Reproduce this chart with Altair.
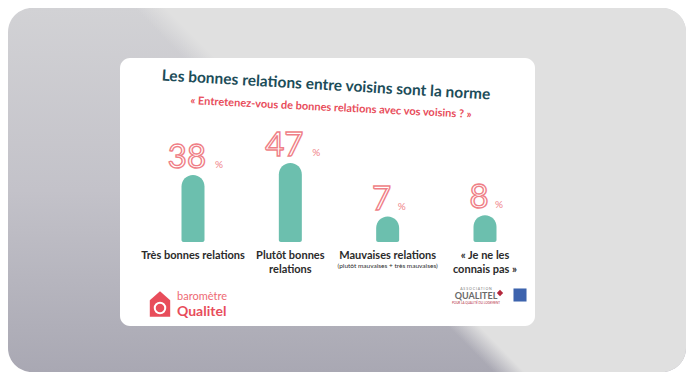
import altair as alt
import pandas as pd

# ---- data ----
categories = ["Très bonnes relations", "Plutôt bonnes relations",
              "Mauvaises relations", "« Je ne les connais pas »"]
labels = ["Très bonnes relations", "Plutôt bonnes\nrelations",
          "Mauvaises relations", "« Je ne les\nconnais pas »"]
sublabels = ["", "", "(plutôt mauvaises + très mauvaises)", ""]
values = [38, 47, 7, 8]

title_text = "Les bonnes relations entre voisins sont la norme"
subtitle_text = "« Entretenez-vous de bonnes relations avec vos voisins ? »"

df = pd.DataFrame({"cat": categories, "label": labels, "sub": sublabels, "v": values})
one = pd.DataFrame({"k": [0]})

TEAL = "#6cbfae"
PINK = "#ef7f87"
RED = "#e84d5b"
FONT = "Lato"
BASE = -12

xenc = alt.X("cat:N", sort=categories, axis=None,
             scale=alt.Scale(type="point", range=[73, 365], padding=0))
yscale = alt.Scale(domain=[BASE, 47], range=[188, 101])

# ---- background (decor) ----
bg = alt.Chart(one).mark_rect(
    cornerRadius=24,
    fill=alt.LinearGradient(gradient="linear", x1=0, y1=0, x2=0, y2=1, stops=[
        alt.GradientStop(color="#d2d2d5", offset=0),
        alt.GradientStop(color="#c3c2c9", offset=0.5),
        alt.GradientStop(color="#a9a8b3", offset=1)]),
).encode(x=alt.value(-112), x2=alt.value(566), y=alt.value(-50), y2=alt.value(314))

bg_light = alt.Chart(one).mark_rect(
    cornerRadius=24,
    fill=alt.LinearGradient(gradient="linear", x1=0, y1=1, x2=1.19, y2=0.37, stops=[
        alt.GradientStop(color="rgba(224,224,224,0)", offset=0),
        alt.GradientStop(color="rgba(224,224,224,0)", offset=0.47),
        alt.GradientStop(color="#e0e0e0", offset=0.5),
        alt.GradientStop(color="#e0e0e0", offset=1)]),
).encode(x=alt.value(-112), x2=alt.value(566), y=alt.value(-50), y2=alt.value(314))

card = alt.Chart(one).mark_rect(cornerRadius=10, fill="white").encode(
    x=alt.value(0), x2=alt.value(415), y=alt.value(0), y2=alt.value(268))

# ---- headings ----
title = alt.Chart(one).mark_text(
    text=title_text, font=FONT, fontSize=15.5, fontWeight="bold", color="#1c4d59",
    align="center", baseline="middle", angle=3.3,
).encode(x=alt.value(206), y=alt.value(27))

subtitle = alt.Chart(one).mark_text(
    text=subtitle_text, font=FONT, fontSize=11, fontWeight="bold", color=RED,
    align="center", baseline="middle", angle=2.8,
).encode(x=alt.value(211), y=alt.value(50))

# ---- bars ----
base = alt.Chart(df)
bars = base.mark_bar(size=23, cornerRadiusTopLeft=11.5, cornerRadiusTopRight=11.5,
                     cornerRadiusBottomLeft=2, cornerRadiusBottomRight=2, color=TEAL).encode(
    x=xenc, y=alt.Y("v:Q", scale=yscale, axis=None), y2=alt.datum(BASE))

nums = base.mark_text(font=FONT, fontSize=33, fill="white", stroke=PINK, strokeWidth=1.4,
                      align="center", baseline="alphabetic", dx=-6, dy=-7).encode(
    x=xenc, y=alt.Y("v:Q", scale=yscale), text=alt.Text("v:Q"))

pct2 = base.transform_filter("datum.v >= 10").mark_text(
    font=FONT, fontSize=10, color=PINK, align="left", baseline="alphabetic", dx=22, dy=-7
).encode(x=xenc, y=alt.Y("v:Q", scale=yscale), text=alt.value("%"))

pct1 = base.transform_filter("datum.v < 10").mark_text(
    font=FONT, fontSize=10, color=PINK, align="left", baseline="alphabetic", dx=10, dy=-7
).encode(x=xenc, y=alt.Y("v:Q", scale=yscale), text=alt.value("%"))

cat_labels = base.mark_text(font=FONT, fontSize=11, fontWeight="bold", color="#2b2b2b",
                            align="center", baseline="top", dy=8, lineBreak="\n",
                            lineHeight=14).encode(
    x=xenc, y=alt.datum(BASE), text="label:N")

sub_labels = base.mark_text(font=FONT, fontSize=6.5, color="#2b2b2b",
                            align="center", baseline="top", dy=21).encode(
    x=xenc, y=alt.datum(BASE), text="sub:N")

# ---- logos (decor) ----
house = alt.Chart(one).mark_point(
    shape="M-0.8,1 L-0.8,-0.3 L0,-1 L0.8,-0.3 L0.8,1 Z", filled=True, color=RED,
    size=650, opacity=1).encode(x=alt.value(40), y=alt.value(246))
gauge = alt.Chart(one).mark_point(shape="circle", filled=False, color="white",
                                  strokeWidth=2, size=110, opacity=1).encode(
    x=alt.value(40), y=alt.value(250))
baro = alt.Chart(one).mark_text(text="baromètre", font=FONT, fontSize=11, color="#ee6a74",
                                align="left", baseline="middle").encode(
    x=alt.value(57), y=alt.value(239))
qual = alt.Chart(one).mark_text(text="Qualitel", font=FONT, fontSize=14, fontWeight="bold",
                                color=RED, align="left", baseline="middle").encode(
    x=alt.value(57), y=alt.value(254))
assoc = alt.Chart(one).mark_text(text="A S S O C I A T I O N", font=FONT, fontSize=3.5,
                                 color="#777777", align="center", baseline="middle").encode(
    x=alt.value(356), y=alt.value(231))
qual2 = alt.Chart(one).mark_text(text="QUALITEL", font=FONT, fontSize=9, fontWeight="bold",
                                 color="#6a6a6a", align="center", baseline="middle").encode(
    x=alt.value(356), y=alt.value(238))
qual3 = alt.Chart(one).mark_text(text="POUR LA QUALITÉ DU LOGEMENT", font=FONT, fontSize=3,
                                 color="#b3283c", align="center", baseline="middle").encode(
    x=alt.value(356), y=alt.value(245))
diamond = alt.Chart(one).mark_point(shape="diamond", filled=True, color="#b3283c",
                                    size=40, opacity=1).encode(
    x=alt.value(380), y=alt.value(235))
ipsos = alt.Chart(one).mark_point(shape="square", filled=True, color="#3d63ad",
                                  size=170, opacity=1).encode(
    x=alt.value(400), y=alt.value(237))

chart = alt.layer(
    bg, bg_light, card, title, subtitle, bars, nums, pct2, pct1, cat_labels, sub_labels,
    house, gauge, baro, qual, assoc, qual2, qual3, diamond, ipsos,
).properties(
    width=415, height=268,
    autosize=alt.AutoSizeParams(type="none"),
    padding={"left": 112, "top": 50, "right": 151, "bottom": 46},
    background="white",
).configure_view(strokeWidth=0)

chart.save("out.html", embed_options={"renderer": "svg", "actions": False})
